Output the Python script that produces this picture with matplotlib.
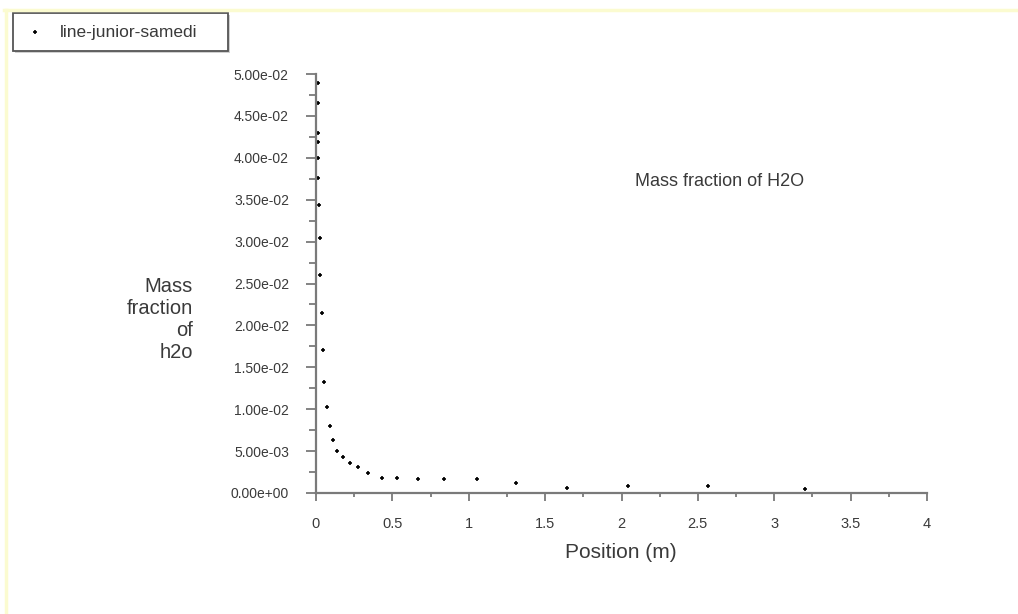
import matplotlib
matplotlib.use("Agg")
import matplotlib.pyplot as plt
from matplotlib.ticker import MultipleLocator, FuncFormatter
from matplotlib.patches import Rectangle
from matplotlib.lines import Line2D

# Data
position_m = [0.014, 0.015, 0.015, 0.016, 0.015, 0.016, 0.018, 0.024, 0.026,
              0.037, 0.044, 0.052, 0.074, 0.092, 0.109, 0.139, 0.175, 0.223,
              0.277, 0.342, 0.430, 0.532, 0.670, 0.838, 1.054, 1.310, 1.643,
              2.043, 2.564, 3.199]
mass_fraction_h2o = [0.04896, 0.04658, 0.04292, 0.04192, 0.04001, 0.03763,
                     0.03437, 0.03047, 0.02601, 0.02144, 0.01706, 0.01328,
                     0.0103, 0.00803, 0.00632, 0.00501, 0.00426, 0.00354,
                     0.00314, 0.00235, 0.00183, 0.00183, 0.00163, 0.00163,
                     0.00163, 0.00123, 0.00063, 0.00087, 0.00087, 0.00044]

series_name = "line-junior-samedi"
title_text = "Mass fraction of H2O"
x_label = "Position (m)"
y_label = "Mass\nfraction\nof\nh2o"

FONT = ["Liberation Sans", "DejaVu Sans"]
plt.rcParams["font.family"] = FONT
TXT = "#3a3a3a"
AX = "#7a7a7a"

fig = plt.figure(figsize=(10.18, 6.14), dpi=100)
fig.patch.set_facecolor("white")

# light yellow frame lines (top and left)
fig.add_artist(Line2D([0.004, 1.0], [1 - 10 / 614, 1 - 10 / 614], transform=fig.transFigure,
                      color="#fbfbd0", lw=2.5))
fig.add_artist(Line2D([6 / 1018, 6 / 1018], [0.0, 1 - 10 / 614], transform=fig.transFigure,
                      color="#fbfbd0", lw=2.5))

ax = fig.add_axes([316 / 1018, (614 - 493) / 614, (927 - 316) / 1018, (493 - 74) / 614])
ax.plot(position_m, mass_fraction_h2o, linestyle="none", marker="+", markersize=3.5,
        markeredgewidth=1.2, color="black", clip_on=False)

ax.set_xlim(0, 4)
ax.set_ylim(0, 0.05)
for s in ["top", "right"]:
    ax.spines[s].set_visible(False)
for s in ["left", "bottom"]:
    ax.spines[s].set_color(AX)
    ax.spines[s].set_linewidth(1.6)

ax.xaxis.set_major_locator(MultipleLocator(0.5))
ax.xaxis.set_minor_locator(MultipleLocator(0.25))
ax.yaxis.set_major_locator(MultipleLocator(0.005))
ax.yaxis.set_minor_locator(MultipleLocator(0.0025))
ax.xaxis.set_major_formatter(FuncFormatter(lambda v, p: f"{v:g}"))
ax.yaxis.set_major_formatter(FuncFormatter(lambda v, p: f"{v:.2e}"))

ax.tick_params(axis="y", which="major", length=7.5, width=1.3, color=AX, labelsize=10,
               labelcolor=TXT, pad=12)
ax.tick_params(axis="y", which="minor", length=5, width=1.3, color=AX)
ax.tick_params(axis="x", which="major", length=6, width=1.3, color=AX, labelsize=10.5,
               labelcolor=TXT, pad=11)
ax.tick_params(axis="x", which="minor", length=3, width=1.3, color=AX)

fig.text(621 / 1018, 1 - 552 / 614, x_label, fontsize=15, color=TXT, ha="center", va="center")
fig.text(193 / 1018, 1 - 320 / 614, y_label, fontsize=14.5, color=TXT, ha="right",
         va="center", linespacing=1.2)
fig.text(720 / 1018, 1 - 181 / 614, title_text, fontsize=13, color=TXT, ha="center",
         va="center")

# legend box with shadow
fig.add_artist(Rectangle((15 / 1018, 1 - 53 / 614), 215 / 1018, 38 / 614,
                         transform=fig.transFigure, facecolor="#d0d0d0", edgecolor="none"))
fig.add_artist(Rectangle((13 / 1018, 1 - 51 / 614), 215 / 1018, 38 / 614,
                         transform=fig.transFigure, facecolor="white", edgecolor="#555555", lw=1.3))
fig.add_artist(Line2D([35 / 1018], [1 - 32 / 614], transform=fig.transFigure, marker="+",
                      markersize=3.5, markeredgewidth=1.2, color="black", linestyle="none"))
fig.text(60 / 1018, 1 - 32 / 614, series_name, fontsize=12.5, color=TXT, ha="left", va="center")

fig.savefig("out.png", dpi=100)
